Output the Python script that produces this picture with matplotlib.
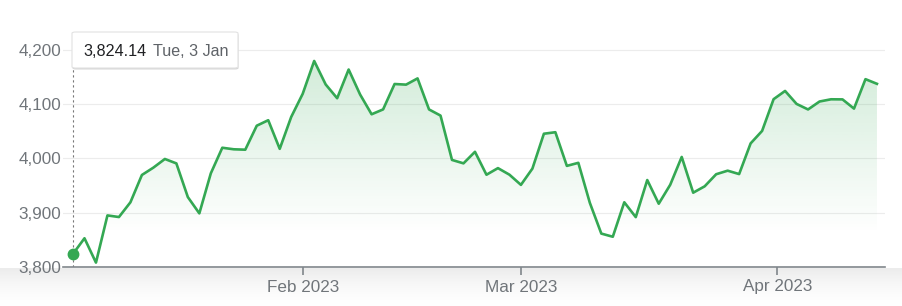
import matplotlib
matplotlib.use("Agg")
import matplotlib.pyplot as plt
from matplotlib.patches import FancyBboxPatch
import numpy as np
import pandas as pd

# S&P 500 daily closes, 3 Jan - 14 Apr 2023
closes = [
    3824.14, 3852.97, 3808.10, 3895.08, 3892.09, 3919.25, 3969.61, 3983.17, 3999.09, 3990.97,
    3928.86, 3898.85, 3972.61, 4019.81, 4016.95, 4016.22, 4060.43, 4070.56, 4017.77, 4076.60,
    4119.21, 4179.76, 4136.48, 4111.08, 4164.00, 4117.86, 4081.50, 4090.46, 4137.29, 4136.13,
    4147.60, 4090.41, 4079.09, 3997.34, 3991.05, 4012.32, 3970.04, 3982.24, 3970.15, 3951.39,
    3981.35, 4045.64, 4048.42, 3986.37, 3992.01, 3918.32, 3861.59, 3855.76, 3919.29, 3891.93,
    3960.28, 3916.64, 3951.57, 4002.87, 3936.97, 3948.72, 3970.99, 3977.53, 3971.27, 4027.81,
    4050.83, 4109.31, 4124.51, 4100.60, 4090.38, 4105.02, 4109.11, 4108.94, 4091.95, 4146.22,
    4137.64,
]
holidays = ["2023-01-16", "2023-02-20", "2023-04-07"]
dates = pd.bdate_range("2023-01-03", "2023-04-14", freq="C", holidays=holidays)
month_starts = ["2023-02-01", "2023-03-01", "2023-04-01"]
month_labels = ["Feb 2023", "Mar 2023", "Apr 2023"]
y_ticks = [3800, 3900, 4000, 4100, 4200]

GREEN = "#34a853"
GRAY = "#70757a"
W, H = 902, 306

plt.rcParams["font.family"] = ["Liberation Sans", "DejaVu Sans"]

fig = plt.figure(figsize=(W / 100, H / 100), dpi=100)
fig.patch.set_facecolor("white")

# soft grey shadow along the bottom edge
bg = fig.add_axes([0, 0, 1, 38 / H], zorder=0)
t = np.linspace(1, 0, 80) ** 1.6
shade = np.ones((80, 1, 3)) * (1 - 0.075 * t).reshape(-1, 1, 1)
bg.imshow(shade, aspect="auto", extent=[0, 1, 0, 1])
bg.axis("off")

ax = fig.add_axes([63 / W, (H - 267) / H, (885 - 63) / W, 257 / H], zorder=1)
ax.set_facecolor("none")

x = np.arange(len(closes))
y = np.array(closes)

ax.set_xlim(-0.87, len(closes) - 1 + 0.7)
ax.set_ylim(3800, 4273.7)

# gradient fill under the line
poly = ax.fill_between(x, y, 3800, color="none", lw=0)
top, bottom = y.max(), 3860
grad = np.zeros((100, 1, 4))
grad[..., 0] = 52 / 255
grad[..., 1] = 168 / 255
grad[..., 2] = 83 / 255
grad[..., 3] = np.linspace(0.22, 0, 100).reshape(-1, 1)
im = ax.imshow(grad, aspect="auto", extent=[x[0], x[-1], bottom, top],
               origin="upper", zorder=1)
im.set_clip_path(poly.get_paths()[0], transform=ax.transData)

ax.plot(x, y, color=GREEN, lw=1.9, zorder=3)
ax.plot(x[0], y[0], "o", color=GREEN, ms=7.5, zorder=4)

for v in y_ticks[1:]:
    ax.axhline(v, color="#ececec", lw=0.8, zorder=0)
ax.axvline(x[0], ymax=(267 - 68) / 257, color="#777777", lw=0.8,
           ls=(0, (2, 2.5)), zorder=2)

for s in ["top", "right", "left"]:
    ax.spines[s].set_visible(False)
ax.spines["bottom"].set_color("#80868b")
ax.spines["bottom"].set_linewidth(1.2)

ords = np.array([d.toordinal() for d in dates])
tick_pos = [np.interp(pd.Timestamp(m).toordinal(), ords, x) for m in month_starts]
ax.set_xticks(tick_pos)
ax.set_xticklabels(month_labels)
ax.set_yticks(y_ticks)
ax.set_yticklabels([f"{v:,}" for v in y_ticks])
ax.tick_params(axis="x", length=6, width=1.2, color="#80868b", pad=3,
               labelsize=12.3, labelcolor=GRAY)
ax.tick_params(axis="y", length=0, pad=1, labelsize=12.3, labelcolor=GRAY)

# tooltip
box = FancyBboxPatch((72 / W, (H - 68) / H), (238 - 72) / W, 36 / H,
                     boxstyle="round,pad=0,rounding_size=0.004",
                     transform=fig.transFigure, fc="white", ec="#e2e2e2",
                     lw=0.8, zorder=5)
shadow = FancyBboxPatch((72.5 / W, (H - 69.5) / H), (238 - 72) / W, 36 / H,
                        boxstyle="round,pad=0,rounding_size=0.004",
                        transform=fig.transFigure, fc="#d6d6d6", ec="none",
                        zorder=4.9)
fig.patches.extend([shadow, box])
fig.text(83 / W, (H - 51) / H, f"{closes[0]:,.2f}", color="#202124",
         fontsize=11.6, va="center", zorder=6)
fig.text(153 / W, (H - 51) / H, dates[0].strftime("%a, %-d %b"), color="#5f6368",
         fontsize=11.6, va="center", zorder=6)

fig.savefig("out.png", dpi=100)
